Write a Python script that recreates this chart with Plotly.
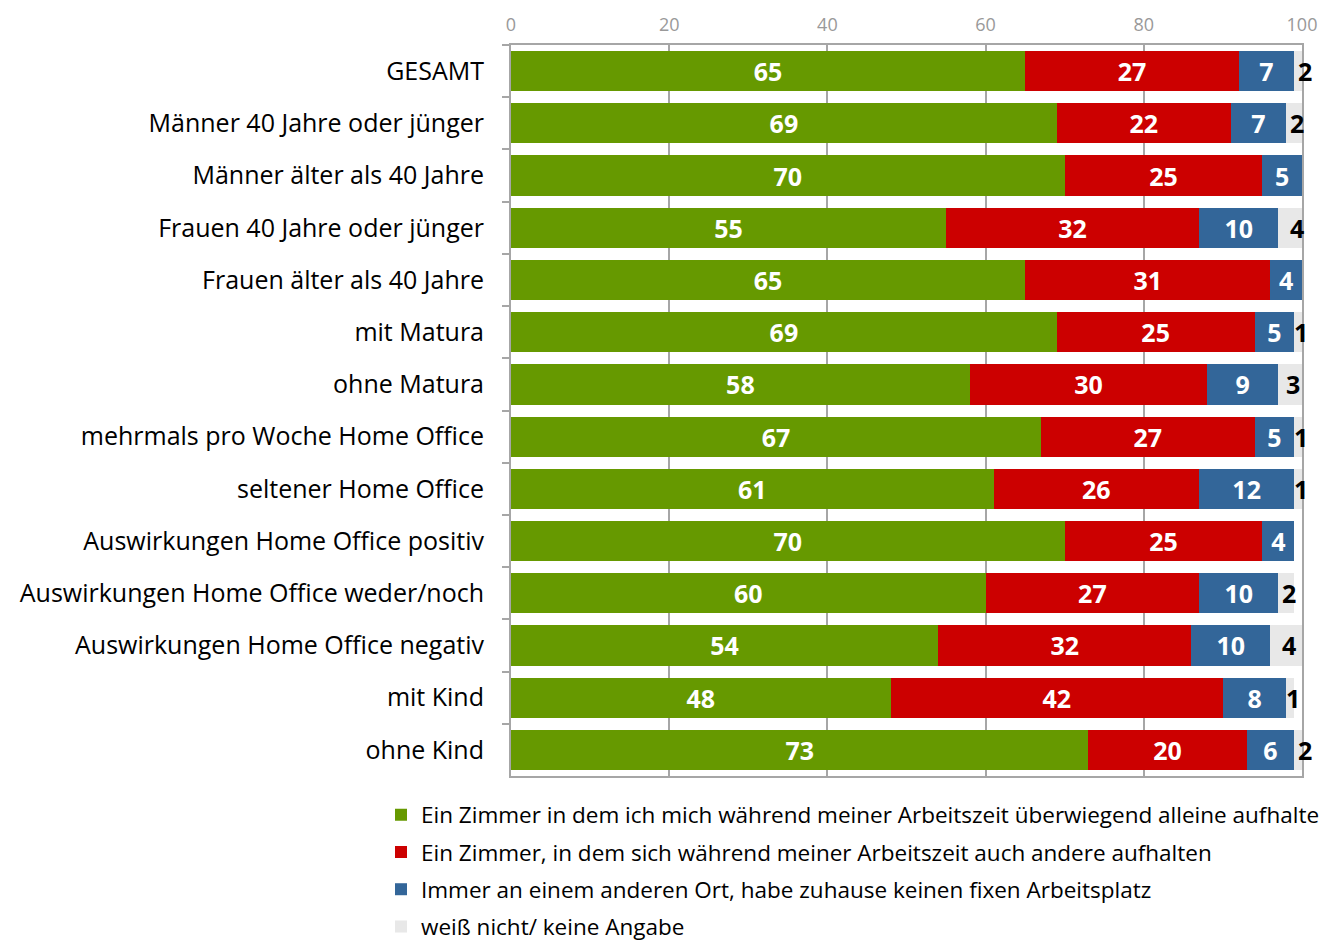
import plotly.graph_objects as go

categories = [
    "GESAMT",
    "Männer 40 Jahre oder jünger",
    "Männer älter als 40 Jahre",
    "Frauen 40 Jahre oder jünger",
    "Frauen älter als 40 Jahre",
    "mit Matura",
    "ohne Matura",
    "mehrmals pro Woche Home Office",
    "seltener Home Office",
    "Auswirkungen Home Office positiv",
    "Auswirkungen Home Office weder/noch",
    "Auswirkungen Home Office negativ",
    "mit Kind",
    "ohne Kind",
]

series_names = [
    "Ein Zimmer in dem ich mich während meiner Arbeitszeit überwiegend alleine aufhalte",
    "Ein Zimmer, in dem sich während meiner Arbeitszeit auch andere aufhalten",
    "Immer an einem anderen Ort, habe zuhause keinen fixen Arbeitsplatz",
    "weiß nicht/ keine Angabe",
]

allein = [65, 69, 70, 55, 65, 69, 58, 67, 61, 70, 60, 54, 48, 73]
andere = [27, 22, 25, 32, 31, 25, 30, 27, 26, 25, 27, 32, 42, 20]
anderer_ort = [7, 7, 5, 10, 4, 5, 9, 5, 12, 4, 10, 10, 8, 6]
weiss_nicht = [2, 2, 0, 4, 0, 1, 3, 1, 1, 0, 2, 4, 1, 2]

x_ticks = [0, 20, 40, 60, 80, 100]

colors = ["#669900", "#CC0000", "#336699", "#E8E8E8"]

FONT = "Open Sans"
X_MAX = 100

# page body has an 8px margin; size the figure so it fits the 1339x946 window
OFFSET = 8
FIG_W = 1339 - OFFSET
FIG_H = 946 - OFFSET

all_series = [allein, andere, anderer_ort, weiss_nicht]
legend_keys = ["legend", "legend2", "legend3", "legend4"]

fig = go.Figure()
for i, (name, vals, col) in enumerate(zip(series_names, all_series, colors)):
    is_gray = i == 3
    fig.add_trace(go.Bar(
        y=categories, x=vals, name=name, orientation="h",
        marker=dict(color=col, line=dict(width=0)),
        text=None if is_gray else [str(v) if v else "" for v in vals],
        textposition="none" if is_gray else "inside",
        insidetextanchor="middle",
        textfont=dict(color="white", size=25, family=FONT, weight="bold"),
        cliponaxis=False,
        legend=legend_keys[i],
        hoverinfo="x+y+name",
    ))

# labels for the "weiß nicht" segment, centred on the segment (black)
annotations = []
for cat, a, b, c, d in zip(categories, allein, andere, anderer_ort, weiss_nicht):
    if d:
        center = a + b + c + d / 2.0
        annotations.append(dict(
            x=center / X_MAX + 0.004, xref="paper", y=cat, yref="y",
            text=str(d), showarrow=False, xanchor="center", yanchor="middle",
            font=dict(color="black", size=25, family=FONT, weight="bold"),
        ))

layout_legends = {}
item_top_px = 815
item_step_px = 37.3
for i, key in enumerate(legend_keys):
    y_px = item_top_px + i * item_step_px - OFFSET
    layout_legends[key] = dict(
        xref="container", yref="container",
        x=(381 - OFFSET) / FIG_W, y=1 - y_px / FIG_H,
        xanchor="left", yanchor="middle",
        font=dict(size=22.5, family=FONT, color="black"),
        itemclick=False, itemwidth=30, bgcolor="rgba(0,0,0,0)",
    )

fig.update_layout(
    barmode="stack",
    bargap=0.23,
    width=FIG_W, height=FIG_H,
    margin=dict(l=511 - OFFSET, r=37, t=45 - OFFSET, b=170, autoexpand=False),
    paper_bgcolor="white", plot_bgcolor="white",
    font=dict(family=FONT, color="black"),
    annotations=annotations,
    showlegend=True,
    **layout_legends,
)

fig.update_xaxes(
    side="top", range=[0, X_MAX], tickvals=x_ticks,
    tickfont=dict(size=18, color="#999999", family=FONT),
    showgrid=True, gridcolor="#a6a6a6", gridwidth=1.5,
    showline=True, linecolor="#a6a6a6", linewidth=2, mirror=True,
    ticks="inside", ticklen=5, tickcolor="#a6a6a6",
    ticklabelstandoff=5, zeroline=False, automargin=False,
)
fig.update_yaxes(
    autorange="reversed",
    tickfont=dict(size=25, color="black", family=FONT),
    showline=True, linecolor="#a6a6a6", linewidth=2, mirror=True,
    ticks="outside", ticklen=7, tickcolor="#a6a6a6", tickwidth=2,
    tickson="boundaries", ticklabelstandoff=20,
    showgrid=False, automargin=False,
)

fig.write_html("out.html")
